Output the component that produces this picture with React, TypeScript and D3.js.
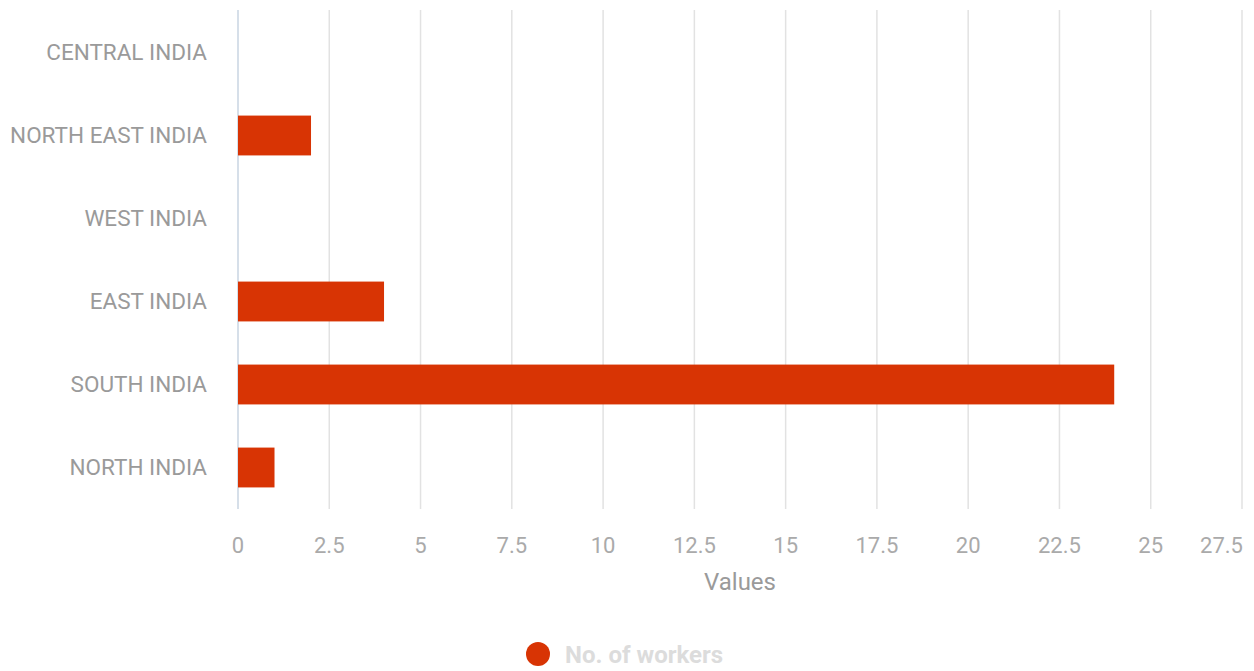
import React from "react";
import * as d3 from "d3";

const categories = ["CENTRAL INDIA", "NORTH EAST INDIA", "WEST INDIA", "EAST INDIA", "SOUTH INDIA", "NORTH INDIA"];
const workers = [0, 2, 0, 4, 24, 1];
const xTicks = [0, 2.5, 5, 7.5, 10, 12.5, 15, 17.5, 20, 22.5, 25, 27.5];
const seriesName = "No. of workers";
const axisTitle = "Values";

export default function App() {
  const W = 1254, H = 671;
  const x = d3.scaleLinear().domain([0, 27.5]).range([238, 1242]);
  const y = d3.scaleBand().domain(categories).range([11, 509]).paddingInner(0.52).paddingOuter(0.26);
  const font = "Roboto, 'Noto Sans', sans-serif";
  const barColor = "#d83404";
  const last = xTicks[xTicks.length - 1];
  return (
    <svg width={W} height={H} style={{ position: "absolute", left: 0, top: 0, background: "#fff" }} fontFamily={font}>
      {xTicks.map((t) => (
        t === 0 ? null :
        <line key={"g" + t} x1={x(t)} x2={x(t)} y1={10} y2={509} stroke="#e2e2e2" strokeWidth={1.5} />
      ))}
      <line x1={x(0)} x2={x(0)} y1={10} y2={509} stroke="#c9d5e2" strokeWidth={1.5} />
      {categories.map((c, i) => (
        <g key={c}>
          {workers[i] > 0 && (
            <rect x={x(0)} y={y(c)} width={x(workers[i]) - x(0)} height={y.bandwidth()} fill={barColor} />
          )}
          <text x={207} y={(y(c) as number) + y.bandwidth() / 2} dy="0.35em" textAnchor="end" fontSize={22.5} fill="#9a9a9a">
            {c}
          </text>
        </g>
      ))}
      {xTicks.map((t) => (
        <text key={"t" + t} x={t === last ? x(t) + 1 : x(t)} y={545} dy="0.35em" textAnchor={t === last ? "end" : "middle"} fontSize={22} fill="#aaaaaa">
          {t}
        </text>
      ))}
      <text x={740} y={582} dy="0.35em" textAnchor="middle" fontSize={24} fill="#9a9a9a">{axisTitle}</text>
      <circle cx={538} cy={654} r={12} fill={barColor} />
      <text x={565} y={655} dy="0.35em" fontSize={24} fontWeight="bold" fill="#dcdcdc">{seriesName}</text>
    </svg>
  );
}
